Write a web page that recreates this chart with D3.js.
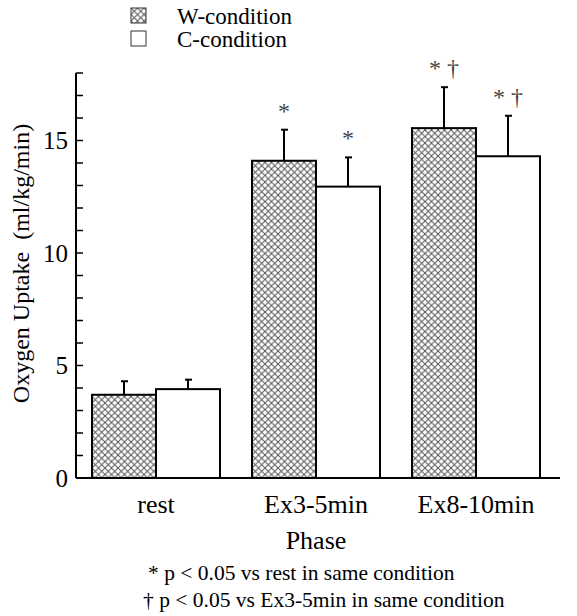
<!DOCTYPE html>
<html>
<head>
<meta charset="utf-8">
<script src="https://cdn.jsdelivr.net/npm/d3@7"></script>
<style>
  body { margin: 0; background: #fff; }
  svg { display: block; font-family: "Liberation Serif", "Times New Roman", serif; }
</style>
</head>
<body>
<div id="chart"></div>
<script>
// data
const phases = ["rest", "Ex3-5min", "Ex8-10min"];
const conditions = ["W-condition", "C-condition"];
const wMeans = [3.7, 14.1, 15.55];
const wErrors = [0.6, 1.38, 1.82];
const cMeans = [3.95, 12.95, 14.3];
const cErrors = [0.42, 1.3, 1.8];
const wMarks = ["", "*", "* \u2020"];
const cMarks = ["", "*", "* \u2020"];
const majorTicks = [0, 5, 10, 15];
const footnotes = [
  "* p < 0.05 vs rest in same condition",
  "\u2020 p < 0.05 vs Ex3-5min in same condition"
];

const width = 577, height = 616;
const margin = {top: 73, left: 76, bottom: 138};
const axisRight = 560;
const plotBottom = height - margin.bottom; // 478

const svg = d3.select("#chart").append("svg")
  .attr("width", width)
  .attr("height", height);

// crosshatch fill
const defs = svg.append("defs");
const pat = defs.append("pattern")
  .attr("id", "hatch")
  .attr("patternUnits", "userSpaceOnUse")
  .attr("width", 6.5)
  .attr("height", 6.5);
pat.append("rect").attr("width", 6.5).attr("height", 6.5).attr("fill", "#fff");
pat.append("path")
  .attr("d", "M0,0 L6.5,6.5 M6.5,0 L0,6.5")
  .attr("stroke", "#555")
  .attr("stroke-width", 1);

const fills = ["url(#hatch)", "#fff"];

const x0 = d3.scaleBand()
  .domain(phases)
  .range([margin.left, 556])
  .paddingInner(0.2)
  .paddingOuter(0.1);

const x1 = d3.scaleBand()
  .domain(conditions)
  .range([0, x0.bandwidth()]);

const y = d3.scaleLinear()
  .domain([0, 18])
  .range([plotBottom, margin.top]);

const rows = phases.map((p, i) => ({
  phase: p,
  values: [
    {cond: conditions[0], mean: wMeans[i], err: wErrors[i], mark: wMarks[i]},
    {cond: conditions[1], mean: cMeans[i], err: cErrors[i], mark: cMarks[i]}
  ]
}));

// bars
const groups = svg.append("g")
  .selectAll("g")
  .data(rows)
  .enter().append("g")
  .attr("transform", d => `translate(${x0(d.phase)},0)`);

const cells = groups.selectAll("g")
  .data(d => d.values)
  .enter().append("g");

const mid = d => x1(d.cond) + x1.bandwidth() / 2;

// error bars first so bar outline sits on top
cells.append("line")
  .attr("x1", mid)
  .attr("x2", mid)
  .attr("y1", d => y(d.mean))
  .attr("y2", d => y(d.mean + d.err))
  .attr("stroke", "#000")
  .attr("stroke-width", 2);

cells.append("line")
  .attr("x1", d => mid(d) - 3)
  .attr("x2", d => mid(d) + 4)
  .attr("y1", d => y(d.mean + d.err))
  .attr("y2", d => y(d.mean + d.err))
  .attr("stroke", "#000")
  .attr("stroke-width", 2);

cells.append("rect")
  .attr("x", d => x1(d.cond))
  .attr("y", d => y(d.mean))
  .attr("width", x1.bandwidth())
  .attr("height", d => y(0) - y(d.mean))
  .attr("fill", (d, i) => fills[i])
  .attr("stroke", "#000")
  .attr("stroke-width", 2);

cells.append("text")
  .attr("x", mid)
  .attr("y", d => y(d.mean + d.err) - 11)
  .attr("text-anchor", "middle")
  .style("font-size", "24px")
  .style("fill", "#444")
  .text(d => d.mark);

// axes
const yAxis = svg.append("g").attr("transform", `translate(${margin.left},0)`);
yAxis.append("line")
  .attr("y1", y(0)).attr("y2", y(18))
  .attr("stroke", "#000").attr("stroke-width", 2);
yAxis.selectAll(".minor")
  .data(d3.range(1, 19))
  .enter().append("line")
  .attr("x1", 0).attr("x2", 7)
  .attr("y1", d => y(d)).attr("y2", d => y(d))
  .attr("stroke", "#000").attr("stroke-width", 1.5);
yAxis.selectAll(".lab")
  .data(majorTicks)
  .enter().append("text")
  .attr("x", -8)
  .attr("y", d => y(d))
  .attr("dy", "0.35em")
  .attr("text-anchor", "end")
  .style("font-size", "25px")
  .text(d => d);

svg.append("line")
  .attr("x1", margin.left).attr("x2", axisRight)
  .attr("y1", y(0)).attr("y2", y(0))
  .attr("stroke", "#000").attr("stroke-width", 2);

svg.append("g")
  .selectAll("text")
  .data(phases)
  .enter().append("text")
  .attr("x", d => x0(d) + x0.bandwidth() / 2)
  .attr("y", plotBottom + 35)
  .attr("text-anchor", "middle")
  .style("font-size", "26px")
  .text(d => d);

svg.append("text")
  .attr("x", x0(phases[1]) + x0.bandwidth() / 2)
  .attr("y", plotBottom + 71)
  .attr("text-anchor", "middle")
  .style("font-size", "26px")
  .text("Phase");

svg.append("text")
  .attr("transform", `translate(29,${(y(0) + y(18)) / 2 - 12}) rotate(-90)`)
  .attr("text-anchor", "middle")
  .style("font-size", "24px")
  .style("white-space", "pre")
  .text("Oxygen Uptake  (ml/kg/min)");

// legend
const legend = svg.append("g")
  .selectAll("g")
  .data(conditions)
  .enter().append("g")
  .attr("transform", (d, i) => `translate(131,${8 + i * 23})`);
legend.append("rect")
  .attr("width", 15).attr("height", 15)
  .attr("fill", (d, i) => fills[i])
  .attr("stroke", "#333").attr("stroke-width", 1);
legend.append("text")
  .attr("x", 46).attr("y", 16)
  .style("font-size", "23px")
  .text(d => d);

// footnotes
svg.append("g")
  .selectAll("text")
  .data(footnotes)
  .enter().append("text")
  .attr("x", (d, i) => i === 0 ? 148 : 143)
  .attr("y", (d, i) => 580 + i * 27)
  .style("font-size", "21.5px")
  .text(d => d);
</script>
</body>
</html>
